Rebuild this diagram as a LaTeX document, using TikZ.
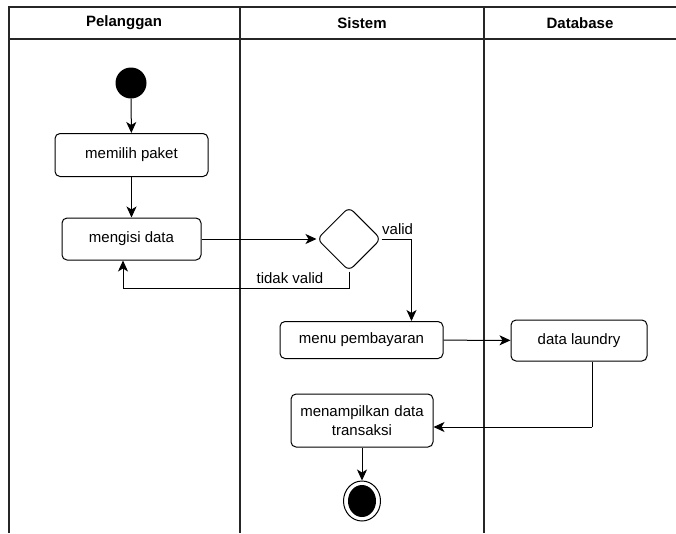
\documentclass[tikz,border=0pt]{standalone}
\usepackage{fontspec}
\setmainfont{Liberation Sans}
\usetikzlibrary{arrows.meta,shapes.geometric}
\begin{document}
\begin{tikzpicture}[x=1pt,y=-1pt,
  lane/.style={line width=1.3pt,draw=black!85},
  act/.style={draw,line width=1pt,rounded corners=5pt,minimum height=42pt,align=center,font=\fontsize{15}{18.5}\selectfont,inner sep=2pt},
  flow/.style={line width=1pt,-{Stealth[length=11pt,width=10pt,inset=3pt]}},
  link/.style={line width=1pt},
  hdr/.style={font=\bfseries\fontsize{15}{18}\selectfont},
  lbl/.style={font=\fontsize{15}{18}\selectfont,inner sep=1pt}]
\useasboundingbox (0,0) rectangle (676,533);
\fill[white] (0,0) rectangle (676,533);
% swimlane frame
\draw[lane] (676,7) -- (9,7) -- (9,533);
\draw[lane] (9,39) -- (676,39);
\draw[lane] (240,7) -- (240,533);
\draw[lane] (484,7) -- (484,533);
\node[hdr] (h1) at (124,23) {Pelanggan};
\node[hdr] (h2) at (362,23) {Sistem};
\node[hdr] (h3) at (580,23) {Database};
% activities
\node[circle,fill=black,minimum size=31pt,inner sep=0pt] (start) at (131,83) {};
\node[act,minimum width=153pt,minimum height=43pt] (pilih) at (131.5,155) {memilih paket};
\node[act,minimum width=139pt,minimum height=42pt] (isi) at (131.5,239) {mengisi data};
\node[draw,line width=1pt,diamond,rounded corners=6pt,minimum width=64pt,minimum height=64pt,inner sep=0pt] (cek) at (349,239) {};
\node[act,minimum width=163pt,minimum height=37pt] (bayar) at (361.5,340) {menu pembayaran};
\node[act,minimum width=136pt,minimum height=41pt] (laundry) at (579,340.5) {data laundry};
\node[act,minimum width=142pt,minimum height=53pt,text width=136pt] (tampil) at (362,420.5) {menampilkan data\\transaksi};
\node[ellipse,draw,line width=1pt,minimum width=37pt,minimum height=40pt,inner sep=0pt] (stop) at (362,501) {};
\fill (stop.center) ellipse (14pt and 16pt);
% flows
\draw[flow] (start) -- (pilih);
\draw[flow] (pilih) -- (isi);
\draw[flow] (isi) -- (cek);
\draw[flow] (cek.east) -- ++(30,0) coordinate (v1) -- (v1 |- bayar.north);
\node[lbl,anchor=south west] (lv) at (381,236) {valid};
\draw[flow] (cek.south) -- ++(0,17) coordinate (t1) -- (t1 -| 123,0) coordinate (t2) -- (t2 |- isi.south);
\node[lbl,anchor=south] (ltv) at (290,285) {tidak valid};
\draw[flow] (bayar) -- (laundry);
\draw[link] (laundry.south -| 592,0) coordinate (d1) -- (d1 |- 0,427) coordinate (d2);
\draw[flow] (d2) -- (d2 -| tampil.east);
\draw[flow] (tampil) -- (stop);
\end{tikzpicture}
\end{document}
